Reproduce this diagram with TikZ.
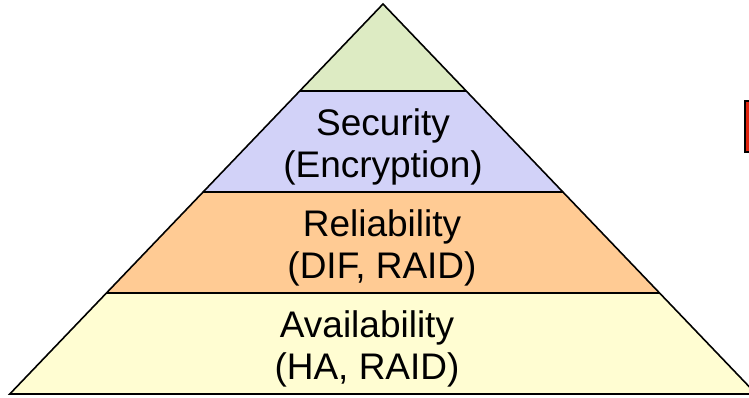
\documentclass[tikz,border=0pt]{standalone}
\usepackage{fontspec}
\setmainfont{Liberation Sans}
\definecolor{topgreen}{HTML}{DDEBC3}
\definecolor{seclav}{HTML}{D2D2F8}
\definecolor{relorange}{HTML}{FFCB94}
\definecolor{availyel}{HTML}{FFFDD2}
\definecolor{tabred}{HTML}{E0240E}
\begin{document}
\begin{tikzpicture}[x=1pt,y=-1pt,
  layer/.style={draw=black,line width=1.6pt,line join=miter},
  label/.style={align=center,inner sep=0pt,font=\fontsize{37}{42}\selectfont}]
\useasboundingbox (0,0) rectangle (749,397);
\begin{scope}
\clip (0,0) rectangle (749,397);
% corners of the pyramid bands
\coordinate (apex) at (383,4);
\coordinate (l1) at (299.7,91);  \coordinate (r1) at (466.3,91);
\coordinate (l2) at (203,192);   \coordinate (r2) at (563,192);
\coordinate (l3) at (106.4,293); \coordinate (r3) at (659.6,293);
\coordinate (l4) at (9.8,394);   \coordinate (r4) at (756.2,394);
\fill[topgreen] (apex) -- (r1) -- (l1) -- cycle;
\fill[seclav] (l1) -- (r1) -- (r2) -- (l2) -- cycle;
\fill[relorange] (l2) -- (r2) -- (r3) -- (l3) -- cycle;
\fill[availyel] (l3) -- (r3) -- (r4) -- (l4) -- cycle;
\draw[layer] (l1) -- (r1) (l2) -- (r2) (l3) -- (r3);
\draw[layer] (apex) -- (r4) -- (l4) -- cycle;
% red tab at the right edge
\draw[fill=tabred,line width=1.6pt] (745,101) rectangle (765,152);
\end{scope}
\node[label] (sec) at (383,147) {Security\\(Encryption)};
\node[label] (rel) at (382,248) {Reliability\\(DIF, RAID)};
\node[label] (ava) at (367,349) {Availability\\(HA, RAID)};
\end{tikzpicture}
\end{document}
